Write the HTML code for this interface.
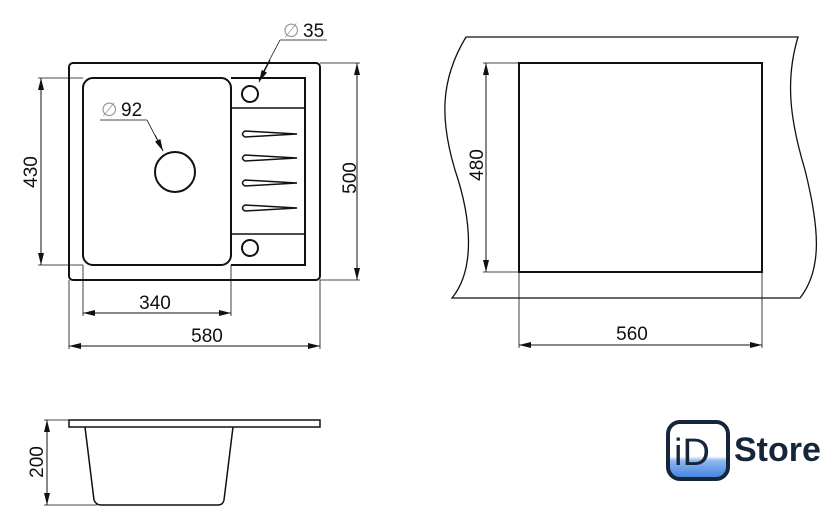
<!DOCTYPE html>
<html><head><style>
html,body{margin:0;padding:0;background:#fff;width:840px;height:530px;overflow:hidden}
text{font-family:"Liberation Sans",sans-serif;fill:#111}
</style></head><body>
<svg width="840" height="530" viewBox="0 0 840 530" xmlns="http://www.w3.org/2000/svg">
<defs>
<marker id="a" viewBox="0 0 12 6" refX="12" refY="3" markerWidth="12" markerHeight="6" orient="auto-start-reverse" markerUnits="userSpaceOnUse"><path d="M0,0L12,3L0,6z" fill="#111"/></marker>
<linearGradient id="g" x1="0" y1="0" x2="0" y2="1"><stop offset="0.6" stop-color="#fff"/><stop offset="0.68" stop-color="#8fb6ee"/><stop offset="1" stop-color="#3d7fe0"/></linearGradient>
</defs>
<g fill="none" stroke="#111">
<rect x="69" y="63" width="251" height="217" rx="4" stroke-width="2"/>
<rect x="83" y="78" width="148" height="187" rx="10" stroke-width="2"/>
<path d="M231,78H305V265H231" stroke-width="2"/>
<path d="M231,108H305M231,234H305" stroke-width="1.5"/>
<circle cx="250" cy="94" r="8" stroke-width="2"/>
<circle cx="250" cy="248" r="8" stroke-width="2"/>
<circle cx="175" cy="172" r="20" stroke-width="2"/>
<g stroke-width="1.5">
<path d="M297,134L245,131Q240,134 245,137Z"/>
<path d="M297,158L245,155Q240,158 245,161Z"/>
<path d="M297,183L245,180Q240,183 245,186Z"/>
<path d="M297,208L245,205Q240,208 245,211Z"/>
</g>
<g stroke-width="0.8">
<path d="M38,78H83M38,265H83M320,63H360M320,280H360M83,265V316M231,265V316M69,280V349M320,280V349"/>
<path d="M280,40H327M280,40L259,80"/>
<path d="M100,120H147M147,120L162,149"/>
</g>
<g stroke-width="1">
<line x1="41" y1="78" x2="41" y2="265" marker-start="url(#a)" marker-end="url(#a)"/>
<line x1="357" y1="63" x2="357" y2="280" marker-start="url(#a)" marker-end="url(#a)"/>
<line x1="83" y1="313" x2="231" y2="313" marker-start="url(#a)" marker-end="url(#a)"/>
<line x1="69" y1="346" x2="320" y2="346" marker-start="url(#a)" marker-end="url(#a)"/>
<line x1="270" y1="60" x2="259" y2="82" marker-end="url(#a)"/>
<line x1="155" y1="135" x2="163" y2="151" marker-end="url(#a)"/>
</g>
<path d="M466,37H798C785,80 790,120 805,170C820,230 822,270 800,298H452C475,270 472,220 455,170C440,120 440,80 466,37Z" stroke-width="1.3"/>
<rect x="519" y="63" width="243" height="209" stroke-width="2"/>
<path d="M483,63H519M483,272H519M519,272V348M762,272V348" stroke-width="0.8"/>
<line x1="486" y1="63" x2="486" y2="272" marker-start="url(#a)" marker-end="url(#a)"/>
<line x1="519" y1="345" x2="762" y2="345" marker-start="url(#a)" marker-end="url(#a)"/>
<rect x="69" y="420" width="251" height="7" stroke-width="1.5"/>
<path d="M85,427L94,500Q96,505 101,505H218Q223,505 224,500L233,427" stroke-width="1.5"/>
<path d="M44,420H69M44,505H97" stroke-width="0.8"/>
<line x1="47" y1="420" x2="47" y2="505" marker-start="url(#a)" marker-end="url(#a)"/>
<rect x="668" y="422" width="60" height="57" rx="12" fill="url(#g)" stroke="#16263a" stroke-width="4"/>
</g>
<g font-size="19">
<text x="30" y="172" text-anchor="middle" transform="rotate(-90 30 172)" dy="7">430</text>
<text x="349" y="178" text-anchor="middle" transform="rotate(-90 349 178)" dy="7">500</text>
<text x="155" y="309" text-anchor="middle">340</text>
<text x="207" y="342" text-anchor="middle">580</text>
<text x="303" y="37">35</text>
<text x="121" y="116">92</text>
<text x="476" y="165" text-anchor="middle" transform="rotate(-90 476 165)" dy="7">480</text>
<text x="632" y="340" text-anchor="middle">560</text>
<text x="36" y="462" text-anchor="middle" transform="rotate(-90 36 462)" dy="7">200</text>
</g>
<g font-size="19"><text x="283" y="37" style="fill:#999">∅</text><text x="101" y="116" style="fill:#999">∅</text></g>
<text x="674" y="465" font-size="38" style="fill:#16263a">iD</text>
<text x="734" y="461" font-size="34" font-weight="bold" style="fill:#16263a">Store</text>
</svg>
</body></html>
